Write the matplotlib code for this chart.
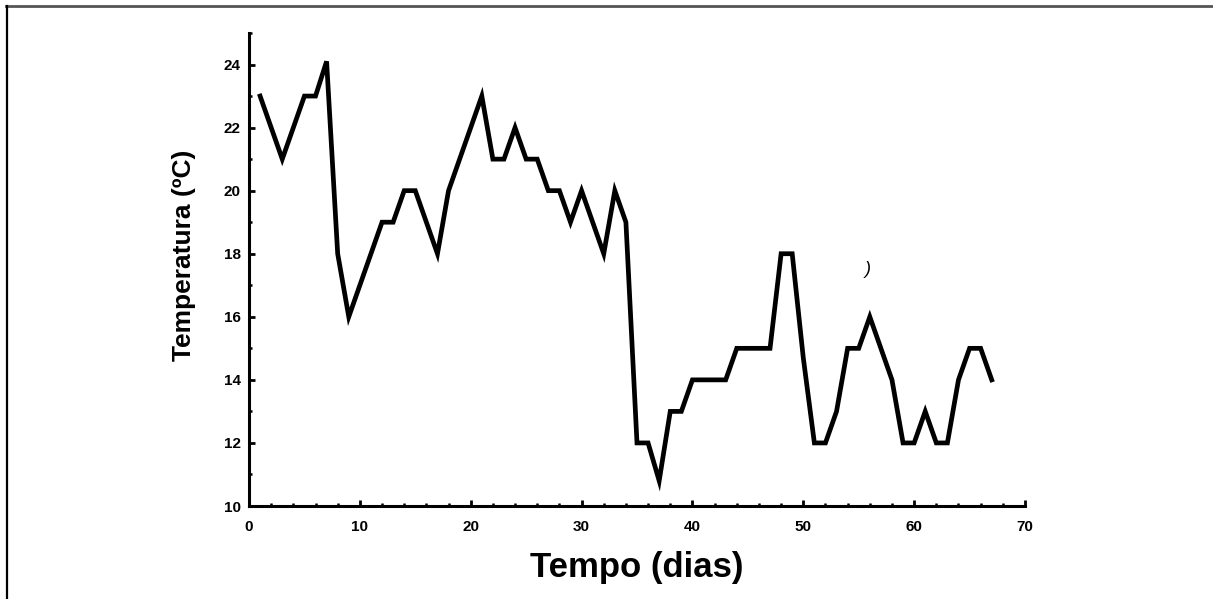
import matplotlib
matplotlib.use("Agg")
import matplotlib.pyplot as plt
from matplotlib.lines import Line2D
from matplotlib.ticker import MultipleLocator

plt.rcParams['font.family'] = ['Liberation Sans', 'DejaVu Sans']

# Dados (vertices da linha)
dias = [1, 3, 5, 6, 7, 8, 9, 12, 13, 14, 15, 17, 18, 21, 22, 23, 24, 25, 26,
        27, 28, 29, 30, 32, 33, 34, 35, 36, 37, 38, 39, 40, 43, 44, 47, 48,
        49, 50, 51, 52, 53, 54, 55, 56, 57, 58, 59, 60, 61, 62, 63, 64, 65,
        66, 67]
temperatura = [23, 21, 23, 23, 24.1, 18, 16, 19, 19, 20, 20, 18, 20, 23, 21,
               21, 22, 21, 21, 20, 20, 19, 20, 18, 20, 19, 12, 12, 10.8, 13,
               13, 14, 14, 15, 15, 18, 18, 14.7, 12, 12, 13, 15, 15, 16, 15,
               14, 12, 12, 13, 12, 12, 14, 15, 15, 14]

fig = plt.figure(figsize=(12.13, 5.99), dpi=100)
ax = fig.add_axes([249 / 1213, 1 - 506 / 599, (1025 - 249) / 1213, (506 - 33) / 599])

ax.plot(dias, temperatura, color="black", lw=3.4, solid_joinstyle="miter")

ax.set_xlim(0, 70)
ax.set_ylim(10, 25)
ax.xaxis.set_major_locator(MultipleLocator(10))
ax.xaxis.set_minor_locator(MultipleLocator(2))
ax.yaxis.set_major_locator(MultipleLocator(2))
ax.yaxis.set_minor_locator(MultipleLocator(1))

for s in ["top", "right"]:
    ax.spines[s].set_visible(False)
for s in ["left", "bottom"]:
    ax.spines[s].set_linewidth(2.2)

ax.tick_params(which="major", direction="in", length=4, width=2)
ax.tick_params(axis="x", which="major", pad=10)
ax.tick_params(axis="y", which="major", pad=6)
ax.tick_params(which="minor", direction="in", length=2.5, width=1.8)
for lab in ax.get_xticklabels() + ax.get_yticklabels():
    lab.set_fontweight("bold")
    lab.set_fontsize(11)

ax.set_xlabel("Tempo (dias)", fontsize=25, fontweight="heavy", labelpad=12)
ax.set_ylabel("Temperatura (ºC)", fontsize=19, fontweight="heavy")
ax.yaxis.set_label_coords(-0.068, 0.53)

# moldura da imagem
fig.add_artist(Line2D([6 / 1213, 1], [1 - 6 / 599, 1 - 6 / 599],
                      transform=fig.transFigure, color="#555555", lw=2))
fig.add_artist(Line2D([6.5 / 1213, 6.5 / 1213], [0, 1 - 6 / 599],
                      transform=fig.transFigure, color="black", lw=1.6))

# pequeno risco da digitalizacao
fig.text(868 / 1213, 1 - 270 / 599, ")", fontsize=13, style="italic",
         ha="center", va="center")

fig.savefig("out.png", dpi=100)
